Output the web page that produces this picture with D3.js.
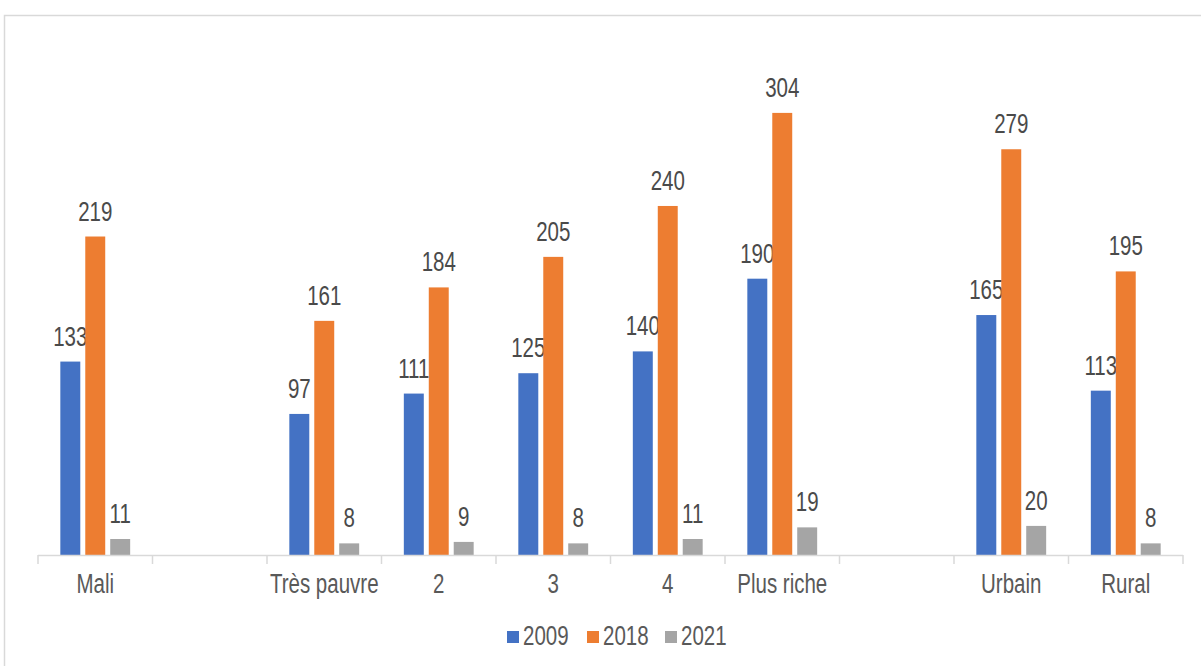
<!DOCTYPE html>
<html>
<head>
<meta charset="utf-8">
<script src="https://cdn.jsdelivr.net/npm/d3@7"></script>
<style>
  html, body { margin: 0; padding: 0; background: #fff; }
  svg { display: block; }
  text { font-family: "Liberation Sans", Arial, sans-serif; }
</style>
</head>
<body>
<svg id="chart" width="1201" height="666"></svg>
<script>
const categories = ["Mali", "", "Très pauvre", "2", "3", "4", "Plus riche", "", "Urbain", "Rural"];
const seriesNames = ["2009", "2018", "2021"];
const values2009 = [133, null, 97, 111, 125, 140, 190, null, 165, 113];
const values2018 = [219, null, 161, 184, 205, 240, 304, null, 279, 195];
const values2021 = [11, null, 8, 9, 8, 11, 19, null, 20, 8];
const colors = ["#4472c4", "#ed7d31", "#a5a5a5"];

const seriesValues = [values2009, values2018, values2021];

const svg = d3.select("#chart");
const NARROW = "scale(0.82,1.1)";
const FS = 25;

// outer frame
svg.append("rect")
  .attr("x", 4.5).attr("y", 15.5)
  .attr("width", 1220).attr("height", 700)
  .attr("fill", "none").attr("stroke", "#d9d9d9").attr("stroke-width", 1.5);

const plotLeft = 38, plotRight = 1183, baseline = 555, plotTop = 46;

const x0 = d3.scaleBand().domain(d3.range(categories.length)).range([plotLeft, plotRight]).padding(0);
const bw = x0.bandwidth();
const x1 = d3.scaleBand().domain(seriesNames).range([bw * 0.195, bw * 0.805]).paddingInner(0.2);
const y = d3.scaleLinear().domain([0, 350]).range([baseline, plotTop]);

// bars
seriesNames.forEach((s, si) => {
  const data = seriesValues[si].map((v, i) => ({ i, v })).filter(d => d.v !== null);
  const g = svg.append("g");
  g.selectAll("rect").data(data).enter().append("rect")
    .attr("x", d => x0(d.i) + x1(s))
    .attr("y", d => y(d.v))
    .attr("width", x1.bandwidth())
    .attr("height", d => y(0) - y(d.v))
    .attr("fill", colors[si]);
  g.selectAll("text").data(data).enter().append("text")
    .attr("transform", d => `translate(${x0(d.i) + x1(s) + x1.bandwidth() / 2},${y(d.v) - 16}) ${NARROW}`)
    .attr("text-anchor", "middle")
    .attr("font-size", FS)
    .attr("fill", "#4a4a4a")
    .text(d => d.v);
});

// axis
const ag = svg.append("g").attr("transform", `translate(0,${baseline})`);
ag.append("line").attr("x1", plotLeft).attr("x2", plotRight).attr("y1", 0.5).attr("y2", 0.5)
  .attr("stroke", "#d9d9d9").attr("stroke-width", 1.5);
const boundaries = d3.range(categories.length + 1).map(i => plotLeft + i * bw);
ag.selectAll("line.tick").data(boundaries).enter().append("line")
  .attr("class", "tick")
  .attr("x1", d => d).attr("x2", d => d)
  .attr("y1", 0).attr("y2", 9)
  .attr("stroke", "#d9d9d9").attr("stroke-width", 1.5);
ag.selectAll("text.cat").data(categories.map((c, i) => ({ c, i }))).enter().append("text")
  .attr("class", "cat")
  .attr("transform", d => `translate(${x0(d.i) + bw / 2},38) ${NARROW}`)
  .attr("text-anchor", "middle")
  .attr("font-size", FS)
  .attr("fill", "#595959")
  .text(d => d.c);

// legend
const legendX = [507, 587, 665];
const lg = svg.append("g");
seriesNames.forEach((s, si) => {
  lg.append("rect").attr("x", legendX[si]).attr("y", 631).attr("width", 12).attr("height", 12).attr("fill", colors[si]);
  lg.append("text").attr("transform", `translate(${legendX[si] + 16},645) ${NARROW}`)
    .attr("font-size", FS).attr("fill", "#595959").text(s);
});
</script>
</body>
</html>
